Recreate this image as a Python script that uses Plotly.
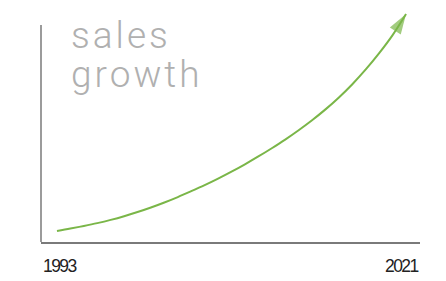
import plotly.graph_objects as go

years = list(range(1994, 2021))
sales = [5.1, 6.2, 7.4, 8.7, 10.2, 11.9, 13.8, 15.9, 18.2, 20.7, 23.4, 26.2,
         29.2, 32.4, 35.8, 39.4, 43.2, 47.2, 51.5, 56.1, 61.1, 66.6, 72.7,
         79.5, 87.0, 95.3, 105.0]
axis_top = 100
start_label = "1993"
end_label = "2021"
title_lines = ["sales", "growth"]

green = "#7ab648"
axis_col = "#7a7a7a"
title_col = "#b0b0b0"

sizes = [0] * (len(years) - 1) + [21]

fig = go.Figure()
fig.add_trace(go.Scatter(
    x=years, y=sales, mode="lines+markers",
    line=dict(color=green, width=2, shape="spline", smoothing=1),
    marker=dict(symbol="arrow", size=sizes, color=green,
                angleref="previous", line=dict(width=0)),
    cliponaxis=False, hoverinfo="skip", showlegend=False,
))

fig.update_layout(
    width=446, height=281,
    margin=dict(l=41, r=26, t=13, b=39, autoexpand=False),
    paper_bgcolor="white", plot_bgcolor="white",
    xaxis=dict(range=[1992.81, 2021.04], showgrid=False, zeroline=False,
               showticklabels=False, ticks="", showline=True,
               linecolor=axis_col, linewidth=1.5),
    yaxis=dict(range=[0, 105.5], showgrid=False, zeroline=False,
               showticklabels=False, ticks="", showline=False),
)
fig.add_shape(type="line", xref="paper", x0=0, x1=0, yref="y", y0=0, y1=axis_top,
              line=dict(color=axis_col, width=1.5), layer="below")

label_font = dict(family="Liberation Sans, Arial, sans-serif",
                  size=17.5, color="#222222")
lbl = '<span style="letter-spacing:-1.6px">{}</span>'
fig.add_annotation(text=lbl.format(start_label), xref="paper", yref="paper", x=0, y=-0.052,
                   xanchor="left", yanchor="top", showarrow=False, font=label_font)
fig.add_annotation(text=lbl.format(end_label), xref="paper", yref="paper", x=1, y=-0.052,
                   xanchor="right", yanchor="top", showarrow=False, font=label_font)

title_font = dict(family="Roboto, sans-serif", size=37, color=title_col, weight=300)
title_y = [1.0057, 0.8354]
for t, ty in zip(title_lines, title_y):
    fig.add_annotation(
        text='<span style="letter-spacing:3px">' + t + '</span>', align="left",
        xref="paper", yref="paper", x=0.075, y=ty,
        xanchor="left", yanchor="top", showarrow=False, font=title_font)

fig.write_html("out.html", config={"displayModeBar": False},
               post_script="document.body.style.margin='0';")
